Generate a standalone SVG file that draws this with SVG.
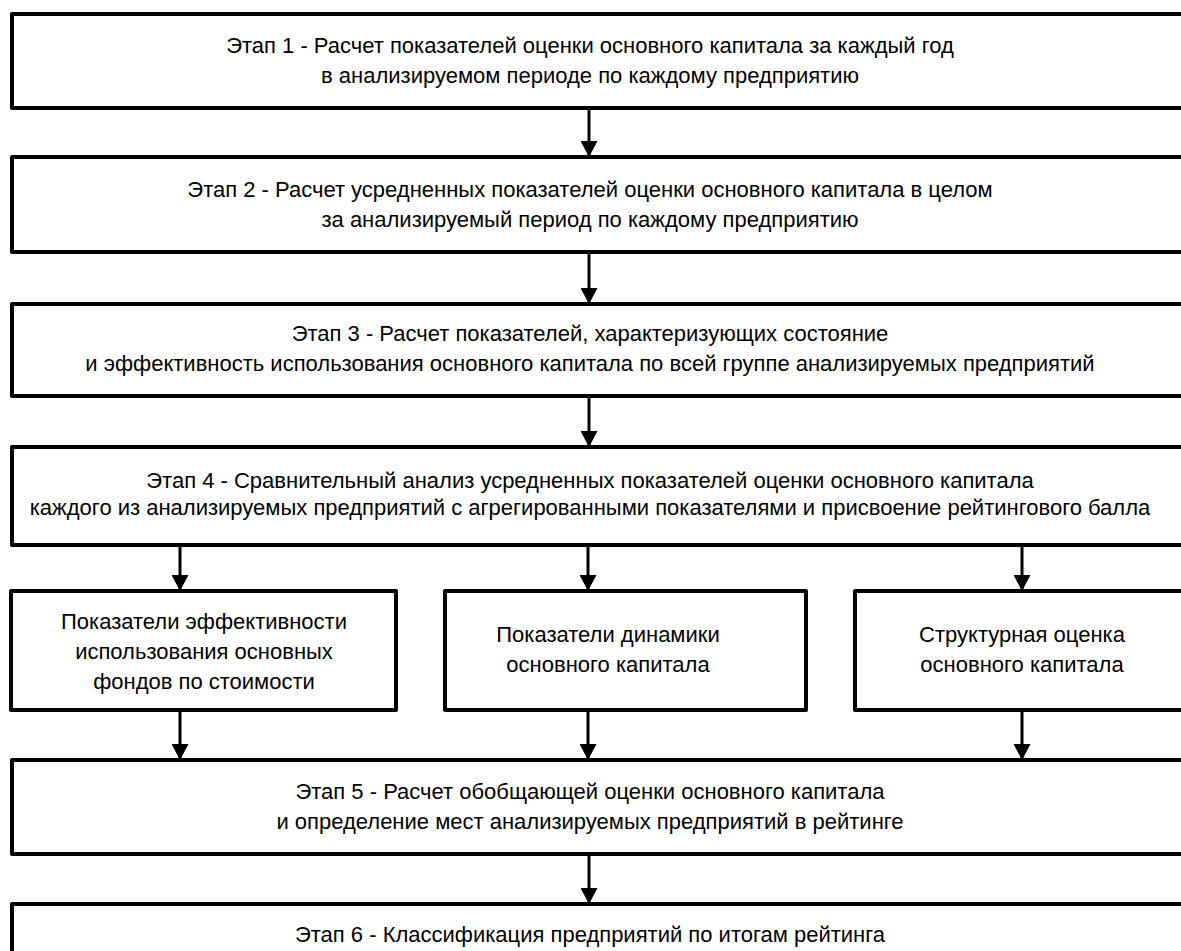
<svg xmlns="http://www.w3.org/2000/svg" width="1181" height="951" viewBox="0 0 1181 951">
<style>
.box{fill:#fff;stroke:#000;stroke-width:4;stroke-linejoin:round}
.t{font-family:"Liberation Sans",Arial,sans-serif;font-size:22px;fill:#000;text-anchor:middle}
.c{stroke:#000;stroke-width:3;fill:none}
</style>
<defs>
<marker id="ah" viewBox="0 0 16 17" refX="16" refY="8.5" markerWidth="16" markerHeight="17" markerUnits="userSpaceOnUse" orient="auto">
<path d="M0,0 L16,8.5 L0,17 z" fill="#000"/>
</marker>
</defs>
<g id="connectors">
<line class="c" x1="589" y1="110" x2="589" y2="157" marker-end="url(#ah)"/>
<line class="c" x1="589" y1="254" x2="589" y2="304" marker-end="url(#ah)"/>
<line class="c" x1="589" y1="398" x2="589" y2="447" marker-end="url(#ah)"/>
<line class="c" x1="180" y1="547" x2="180" y2="591" marker-end="url(#ah)"/>
<line class="c" x1="588" y1="547" x2="588" y2="591" marker-end="url(#ah)"/>
<line class="c" x1="1022" y1="547" x2="1022" y2="591" marker-end="url(#ah)"/>
<line class="c" x1="180" y1="712" x2="180" y2="760" marker-end="url(#ah)"/>
<line class="c" x1="588" y1="712" x2="588" y2="760" marker-end="url(#ah)"/>
<line class="c" x1="1022" y1="712" x2="1022" y2="760" marker-end="url(#ah)"/>
<line class="c" x1="589" y1="856" x2="589" y2="904" marker-end="url(#ah)"/>
</g>
<g id="stage1">
<rect class="box" x="12" y="14" width="1190" height="94"/>
<text class="t" x="590" y="53">Этап 1 - Расчет показателей оценки основного капитала за каждый год</text>
<text class="t" x="590" y="83">в анализируемом периоде по каждому предприятию</text>
</g>
<g id="stage2">
<rect class="box" x="12" y="157" width="1190" height="95"/>
<text class="t" x="590" y="197">Этап 2 - Расчет усредненных показателей оценки основного капитала в целом</text>
<text class="t" x="590" y="227">за анализируемый период по каждому предприятию</text>
</g>
<g id="stage3">
<rect class="box" x="12" y="304" width="1190" height="92"/>
<text class="t" x="590" y="341">Этап 3 - Расчет показателей, характеризующих состояние</text>
<text class="t" x="590" y="371">и эффективность использования основного капитала по всей группе анализируемых предприятий</text>
</g>
<g id="stage4">
<rect class="box" x="12" y="447" width="1190" height="98"/>
<text class="t" x="590" y="488">Этап 4 - Сравнительный анализ усредненных показателей оценки основного капитала</text>
<text class="t" x="590" y="515">каждого из анализируемых предприятий с агрегированными показателями и присвоение рейтингового балла</text>
</g>
<g id="efficiency">
<rect class="box" x="11" y="591" width="385" height="119"/>
<text class="t" x="204" y="629">Показатели эффективности</text>
<text class="t" x="204" y="659">использования основных</text>
<text class="t" x="204" y="689">фондов по стоимости</text>
</g>
<g id="dynamics">
<rect class="box" x="445" y="591" width="361" height="119"/>
<text class="t" x="608" y="642">Показатели динамики</text>
<text class="t" x="608" y="672">основного капитала</text>
</g>
<g id="structure">
<rect class="box" x="855" y="591" width="350" height="119"/>
<text class="t" x="1022" y="642">Структурная оценка</text>
<text class="t" x="1022" y="672">основного капитала</text>
</g>
<g id="stage5">
<rect class="box" x="12" y="760" width="1190" height="94"/>
<text class="t" x="590" y="799">Этап 5 - Расчет обобщающей оценки основного капитала</text>
<text class="t" x="590" y="829">и определение мест анализируемых предприятий в рейтинге</text>
</g>
<g id="stage6">
<rect class="box" x="12" y="904" width="1190" height="100"/>
<text class="t" x="590" y="942">Этап 6 - Классификация предприятий по итогам рейтинга</text>
</g>
</svg>
